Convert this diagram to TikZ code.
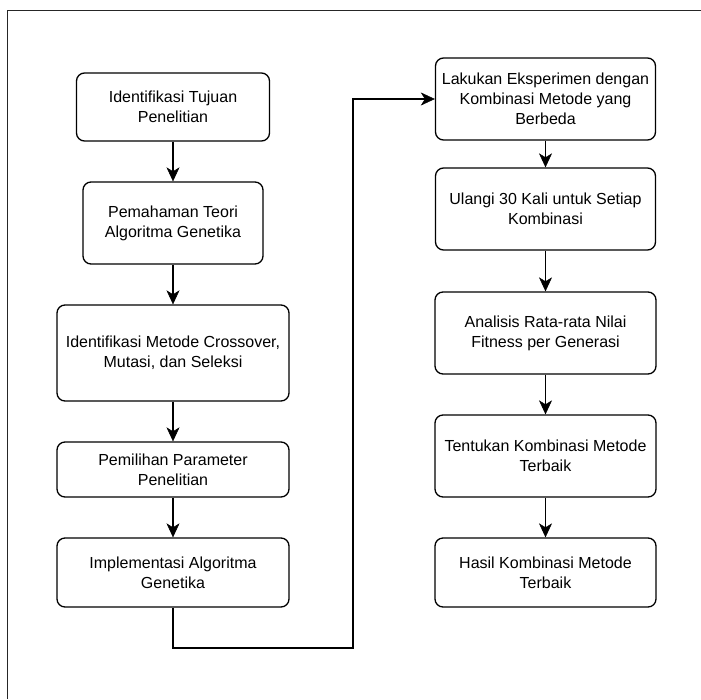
\documentclass[tikz,border=0pt]{standalone}
\usepackage{fontspec}
\setmainfont{Liberation Sans}
\usetikzlibrary{arrows.meta}

\begin{document}
\begin{tikzpicture}[x=1pt, y=1pt, line width=1.3pt,
    box/.style={draw, rounded corners=8pt, align=center, inner sep=0pt,
      font=\fontsize{16}{20}\selectfont},
    tip/.tip={Stealth[length=14pt, width=13pt, inset=4pt, line width=0.5pt]},
    arr/.style={-tip}]
      \useasboundingbox (0,0) rectangle (701,-699);
      \draw[line width=1pt, black!85] (7,-699) -- (7,-10) -- (701,-10);

      % left column
      \node[box, minimum width=193pt, minimum height=68pt] (IT) at (173,-107) {Identifikasi Tujuan\\Penelitian};
      \node[box, minimum width=180pt, minimum height=82pt] (PT) at (173,-223) {Pemahaman Teori\\Algoritma Genetika};
      \node[box, minimum width=232pt, minimum height=96pt] (IM) at (173,-353) {Identifikasi Metode Crossover,\\Mutasi, dan Seleksi};
      \node[box, minimum width=232pt, minimum height=55pt] (PP) at (173,-469.5) {Pemilihan Parameter\\Penelitian};
      \node[box, minimum width=232pt, minimum height=69pt] (IA) at (173,-572.5) {Implementasi Algoritma\\Genetika};

      % right column
      \node[box, minimum width=220pt, minimum height=82pt] (LE) at (545.5,-99) {Lakukan Eksperimen dengan\\Kombinasi Metode yang\\Berbeda};
      \node[box, minimum width=220pt, minimum height=82pt] (UK) at (545.5,-209) {Ulangi 30 Kali untuk Setiap\\Kombinasi};
      \node[box, minimum width=221pt, minimum height=82pt] (AR) at (545.5,-333) {Analisis Rata-rata Nilai\\Fitness per Generasi};
      \node[box, minimum width=221pt, minimum height=82pt] (TK) at (545.5,-456) {Tentukan Kombinasi Metode\\Terbaik};
      \node[box, minimum width=221pt, minimum height=69pt] (HK) at (545.5,-572.5) {Hasil Kombinasi Metode\\Terbaik};

      \coordinate (turn) at (353,-648);

      \draw[arr] (IT) -- (PT);
      \draw[arr] (PT) -- (IM);
      \draw[arr] (IM) -- (PP);
      \draw[arr] (PP) -- (IA);
      \draw[arr] (IA.south) -- (IA |- turn) -- (turn) |- (LE.west);

      \draw[arr] (LE) -- (UK);
      \draw[arr] (UK) -- (AR);
      \draw[arr] (AR) -- (TK);
      \draw[arr] (TK) -- (HK);
    \end{tikzpicture}
\end{document}
